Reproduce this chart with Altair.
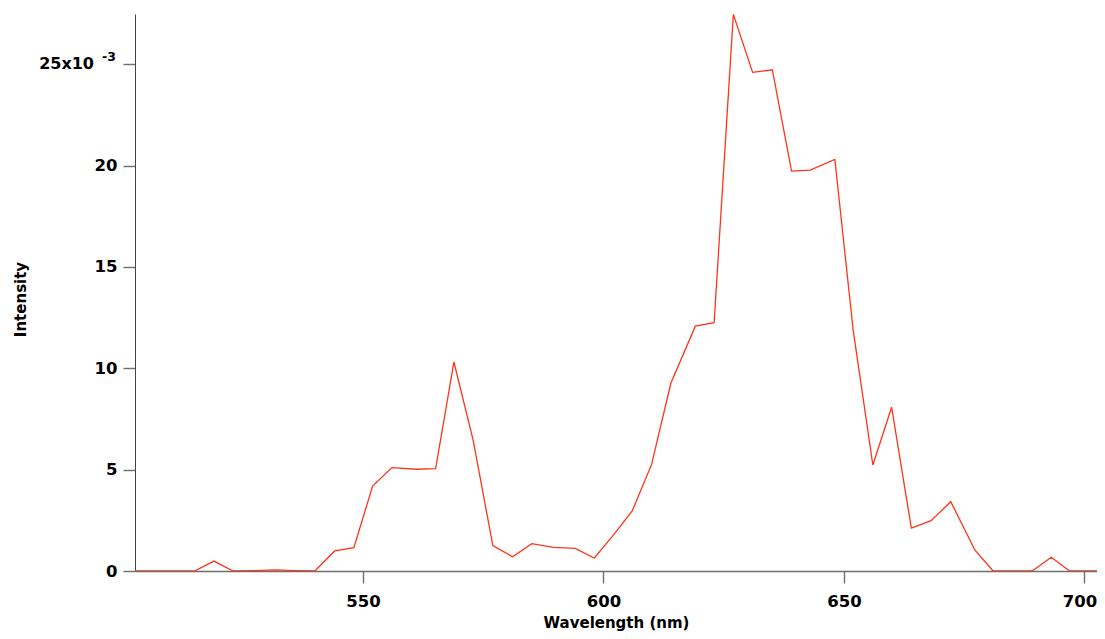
import altair as alt
import pandas as pd

# Wavelength (nm) and intensity (x10^-3)
wavelength = [502.6, 506.7, 510.9, 515.0, 519.0, 523.0, 527.3, 531.8, 536.0, 540.0,
              544.1, 548.1, 552.0, 556.0, 561.1, 565.1, 568.9, 572.9, 577.0, 581.1,
              585.1, 589.6, 594.1, 598.1, 602.1, 606.0, 610.0, 614.0, 619.1, 623.0,
              627.0, 631.0, 635.1, 639.1, 643.0, 648.1, 651.9, 656.0, 659.9, 664.0,
              668.1, 672.2, 677.2, 681.0, 685.0, 689.1, 693.1, 696.9, 701.0, 705.0]
intensity_e3 = [0, 0, 0, 0, 0.49, 0, 0.02, 0.06, 0.02, 0,
                0.99, 1.15, 4.19, 5.10, 5.02, 5.05, 10.31, 6.46, 1.25, 0.70,
                1.35, 1.17, 1.12, 0.64, 1.78, 2.98, 5.26, 9.26, 12.08, 12.25,
                27.46, 24.60, 24.73, 19.73, 19.78, 20.31, 11.90, 5.23, 8.08, 2.12,
                2.48, 3.42, 1.04, 0, 0, 0, 0.68, 0, 0, 0]
x_ticks = [550, 600, 650, 700]
y_ticks = [0, 5, 10, 15, 20, 25]
x_domain = [502.6, 702.6]
y_domain = [0, 27.48]
top_label = ["25x10"]
top_exponent = ["-3"]

df = pd.DataFrame({"wavelength": wavelength, "intensity": intensity_e3})

FONT = "DejaVu Sans"
yscale = alt.Scale(domain=y_domain, nice=False, zero=True)

x_enc = alt.X(
    "wavelength:Q",
    scale=alt.Scale(domain=x_domain, nice=False, zero=False),
    axis=alt.Axis(
        values=x_ticks, title="Wavelength (nm)", grid=False,
        tickSize=12, labelPadding=10, titlePadding=6,
        labelOffset={"condition": {"test": "datum.value == 700", "value": -5}, "value": 0},
        labelFont=FONT, labelFontSize=16.5, labelFontWeight="bold", labelColor="#000",
        titleFont=FONT, titleFontSize=15, titleFontWeight="bold", titleColor="#000",
        domainColor="#6e6e6e", domainWidth=1.6, tickColor="#6e6e6e", tickWidth=1.4,
        labelFlush=False,
    ),
)
y_enc = alt.Y(
    "intensity:Q",
    scale=yscale,
    axis=alt.Axis(
        values=y_ticks, title="Intensity", grid=False,
        tickSize=12, labelPadding=6,
        titleX=-107, titleY=285,
        labelExpr="datum.value == 25 ? '' : datum.label",
        labelFont=FONT, labelFontSize=16.5, labelFontWeight="bold", labelColor="#000",
        titleFont=FONT, titleFontSize=15, titleFontWeight="bold", titleColor="#000",
        domainColor="#444444", domainWidth=1, tickColor="#6e6e6e", tickWidth=1.4,
        labelFlush=False,
    ),
)

line = alt.Chart(df).mark_line(color="#ff3418", strokeWidth=1.3, clip=True).encode(
    x=x_enc, y=y_enc
)

lab = alt.Chart(pd.DataFrame({"v": [25], "t": top_label})).mark_text(
    font=FONT, fontSize=16, fontWeight="bold", color="#000",
    align="right", baseline="middle",
).encode(
    x=alt.value(-41),
    y=alt.Y("v:Q", scale=yscale),
    text="t:N",
)

sup = alt.Chart(pd.DataFrame({"v": [25], "t": top_exponent})).mark_text(
    font=FONT, fontSize=12.5, fontWeight="bold", color="#000",
    align="right", baseline="alphabetic", dy=-3,
).encode(
    x=alt.value(-19),
    y=alt.Y("v:Q", scale=yscale),
    text="t:N",
)

chart = alt.layer(line, lab, sup).properties(
    width=962, height=557,
    autosize=alt.AutoSizeParams(type="none"),
    padding={"left": 127, "top": 6, "right": 0, "bottom": 60},
    background="white",
).configure_view(stroke=None, strokeWidth=0)

chart.save("out.html", embed_options={"renderer": "svg", "actions": False})
